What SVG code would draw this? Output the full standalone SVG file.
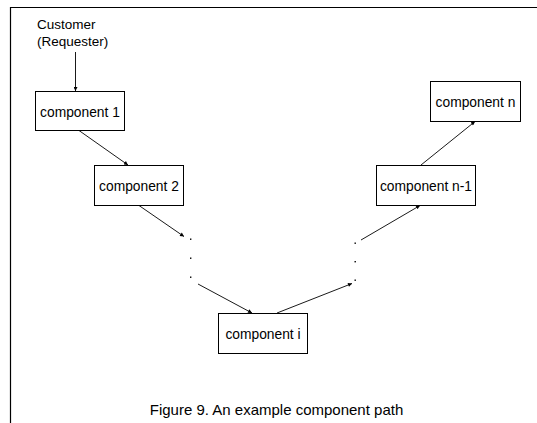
<svg xmlns="http://www.w3.org/2000/svg" width="537" height="423" viewBox="0 0 537 423">
<style>
.box{fill:#fff;stroke:#000;stroke-width:1}
.lbl{font-family:"Liberation Sans",Arial,sans-serif;font-size:13.8px;fill:#000;text-anchor:middle}
.cust{font-family:"Liberation Sans",Arial,sans-serif;font-size:13.5px;fill:#000}
.cap{font-family:"Liberation Sans",Arial,sans-serif;font-size:15px;fill:#000;text-anchor:middle}
.edge{stroke:#000;stroke-width:0.9;fill:none;marker-end:url(#ah)}
.dot{fill:#000}
</style>
<defs>
<marker id="ah" viewBox="0 0 10 10" refX="10" refY="5" markerWidth="5" markerHeight="4" markerUnits="userSpaceOnUse" orient="auto">
<path d="M0,0 L10,5 L0,10 z" fill="#000"/>
</marker>
</defs>
<rect width="537" height="423" fill="#fff"/>
<g id="frame">
<path d="M10.5,423 V7.5 H537" stroke="#000" stroke-width="1.2" fill="none"/>
</g>
<g id="customer">
<text class="cust" x="37" y="29">Customer</text>
<text class="cust" x="37" y="46">(Requester)</text>
</g>
<g id="comp1">
<rect class="box" x="35.5" y="91.5" width="89" height="39"/>
<text class="lbl" x="80" y="117">component 1</text>
</g>
<g id="comp2">
<rect class="box" x="94.5" y="165.5" width="89" height="40"/>
<text class="lbl" x="139" y="191">component 2</text>
</g>
<g id="compi">
<rect class="box" x="218.5" y="313.5" width="89" height="40"/>
<text class="lbl" x="263" y="339">component i</text>
</g>
<g id="compn1">
<rect class="box" x="376.5" y="165.5" width="99" height="40"/>
<text class="lbl" x="426" y="191">component n-1</text>
</g>
<g id="compn">
<rect class="box" x="430.5" y="81.5" width="90" height="40"/>
<text class="lbl" x="475.5" y="107">component n</text>
</g>
<g id="dots-left">
<rect class="dot" x="190" y="238.5" width="1.4" height="1.4"/>
<rect class="dot" x="190" y="257.5" width="1.4" height="1.4"/>
<rect class="dot" x="190" y="276.5" width="1.4" height="1.4"/>
</g>
<g id="dots-right">
<rect class="dot" x="354.5" y="242.5" width="1.4" height="1.4"/>
<rect class="dot" x="354.5" y="261" width="1.4" height="1.4"/>
<rect class="dot" x="354.5" y="279.5" width="1.4" height="1.4"/>
</g>
<g id="connectors">
<line class="edge" x1="75.5" y1="52" x2="75.5" y2="91"/>
<line class="edge" x1="79" y1="130.5" x2="128" y2="165"/>
<line class="edge" x1="139" y1="205.5" x2="184" y2="236.5"/>
<line class="edge" x1="198" y1="284" x2="252" y2="313"/>
<line class="edge" x1="277" y1="313" x2="352" y2="283.5"/>
<line class="edge" x1="361" y1="240" x2="420" y2="205.5"/>
<line class="edge" x1="421" y1="165" x2="475" y2="121.5"/>
</g>
<g id="caption">
<text class="cap" x="276.5" y="415">Figure 9. An example component path</text>
</g>
</svg>
